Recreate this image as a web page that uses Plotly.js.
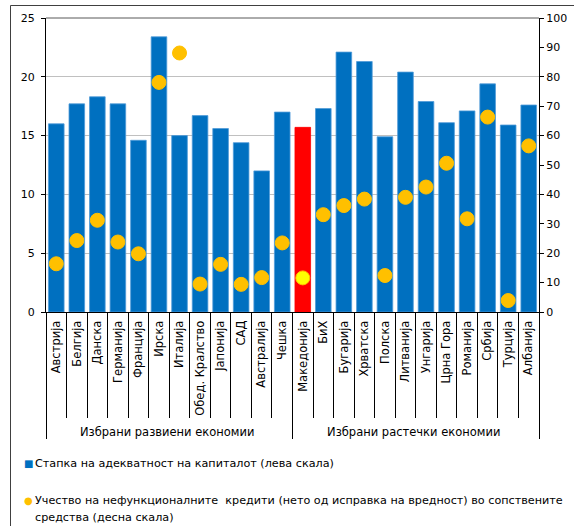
<!DOCTYPE html>
<html>
<head>
<meta charset="utf-8">
<script src="https://cdn.plot.ly/plotly-3.0.1.min.js"></script>
<style>html,body{margin:0;padding:0;background:#fff;}#chart{width:574px;height:526px;}</style>
</head>
<body>
<div id="chart"></div>
<script>
// ---- data ----
var groupLabels = ['Избрани развиени економии', 'Избрани растечки економии'];
var developed = ['Австрија', 'Белгија', 'Данска', 'Германија', 'Франција', 'Ирска', 'Италија', 'Обед. Кралство', 'Јапонија', 'САД', 'Австралија', 'Чешка'];
var emerging = ['Македонија', 'БиХ', 'Бугарија', 'Хрватска', 'Полска', 'Литванија', 'Унгарија', 'Црна Гора', 'Романија', 'Србија', 'Турција', 'Албанија'];
var capitalAdequacy = [16.0, 17.7, 18.3, 17.7, 14.6, 23.4, 15.0, 16.7, 15.6, 14.4, 12.0, 17.0,
                       15.7, 17.3, 22.1, 21.3, 14.9, 20.4, 17.9, 16.1, 17.1, 19.4, 15.9, 17.6];
var nplShare = [16.4, 24.3, 31.2, 23.8, 19.8, 78.1, 88.1, 9.5, 16.2, 9.4, 11.7, 23.5,
                11.6, 33.1, 36.2, 38.4, 12.4, 39.0, 42.5, 50.6, 31.7, 66.3, 3.9, 56.5];
var seriesNames = ['Стапка на адекватност на капиталот (лева скала)',
                   'Учество на нефункционалните  кредити (нето од исправка на вредност) во сопствените',
                   'средства (десна скала)'];
var highlight = 'Македонија';

// ---- build ----
var countries = developed.concat(emerging);
var groups = developed.map(function(){return groupLabels[0];}).concat(emerging.map(function(){return groupLabels[1];}));
var FONT = 'DejaVu Sans, Verdana, sans-serif';
var blue = '#0070C0', red = '#FF0000', gold = '#FFC000', yellow = '#FFFF00';

var barColors = countries.map(function(c){ return c === highlight ? red : blue; });
var barLines = countries.map(function(c){ return c === highlight ? red : '#4f9ad8'; });
var dotColors = countries.map(function(c){ return c === highlight ? yellow : gold; });

var traces = [
  {
    type: 'bar', x: [groups, countries], y: capitalAdequacy, yaxis: 'y',
    marker: {color: barColors, line: {color: barLines, width: 0.8}},
    name: seriesNames[0], showlegend: false, hoverinfo: 'y'
  },
  {
    type: 'scatter', mode: 'markers', x: [groups, countries], y: nplShare, yaxis: 'y2',
    marker: {color: dotColors, size: 14, line: {color: gold, width: 1}},
    name: seriesNames[1], showlegend: false, hoverinfo: 'y', cliponaxis: false
  }
];

function px(x){ return (x - 46) / 493; }
function py(y){ return (312 - y) / 294; }

var layout = {
  width: 574, height: 526,
  margin: {l: 46, r: 35, t: 18, b: 214},
  paper_bgcolor: '#fff', plot_bgcolor: '#fff',
  font: {family: FONT, size: 11, color: '#000'},
  bargap: 0.24,
  xaxis: {
    type: 'multicategory', tickangle: -90, automargin: false,
    range: [-0.5, countries.length - 0.5], autorange: false,
    ticks: 'outside', ticklen: 105, tickcolor: '#000', tickwidth: 1,
    ticklabelstandoff: 3,
    showdividers: true, dividercolor: '#000', dividerwidth: 1,
    showline: true, linecolor: '#000', linewidth: 1,
    showgrid: false, zeroline: false,
    tickfont: {family: FONT, size: 11.5, color: '#000'}
  },
  yaxis: {
    range: [0, 25], dtick: 5, tick0: 0, automargin: false,
    ticks: 'outside', ticklen: 4, tickcolor: '#000',
    showline: true, linecolor: '#000', linewidth: 1,
    showgrid: true, gridcolor: '#c0c0c0', gridwidth: 1, zeroline: false,
    ticklabelstandoff: 4,
    tickfont: {family: FONT, size: 11, color: '#000'}
  },
  yaxis2: {
    range: [0, 100], dtick: 10, tick0: 0, overlaying: 'y', side: 'right', automargin: false,
    ticks: 'outside', ticklen: 4, tickcolor: '#000',
    showline: true, linecolor: '#000', linewidth: 1,
    showgrid: false, zeroline: false,
    tickfont: {family: FONT, size: 11, color: '#000'}
  },
  shapes: [
    {type: 'line', xref: 'paper', yref: 'paper', x0: 0, x1: 1, y0: 1, y1: 1, line: {color: '#595959', width: 1}},
    {type: 'line', xref: 'paper', yref: 'paper', x0: px(10.5), x1: px(10.5), y0: py(5.5), y1: py(540), line: {color: '#404040', width: 1}},
    {type: 'line', xref: 'paper', yref: 'paper', x0: px(10.5), x1: px(580), y0: py(5.5), y1: py(5.5), line: {color: '#404040', width: 1}}
  ],
  annotations: [
    {xref: 'paper', yref: 'paper', x: px(22), y: py(463), xanchor: 'left', yanchor: 'middle', showarrow: false,
     text: '■', font: {family: FONT, size: 10, color: blue}},
    {xref: 'paper', yref: 'paper', x: px(33), y: py(463), xanchor: 'left', yanchor: 'middle', showarrow: false,
     text: seriesNames[0], font: {family: FONT, size: 11.2, color: '#000'}},
    {xref: 'paper', yref: 'paper', x: px(22), y: py(500), xanchor: 'left', yanchor: 'middle', showarrow: false,
     text: '●', font: {family: FONT, size: 10, color: gold}},
    {xref: 'paper', yref: 'paper', x: px(33), y: py(500), xanchor: 'left', yanchor: 'middle', showarrow: false,
     text: seriesNames[1], font: {family: FONT, size: 11.2, color: '#000'}},
    {xref: 'paper', yref: 'paper', x: px(33), y: py(517), xanchor: 'left', yanchor: 'middle', showarrow: false,
     text: seriesNames[2], font: {family: FONT, size: 11.2, color: '#000'}}
  ]
};

Plotly.newPlot('chart', traces, layout, {displayModeBar: false, staticPlot: true});
</script>
</body>
</html>
